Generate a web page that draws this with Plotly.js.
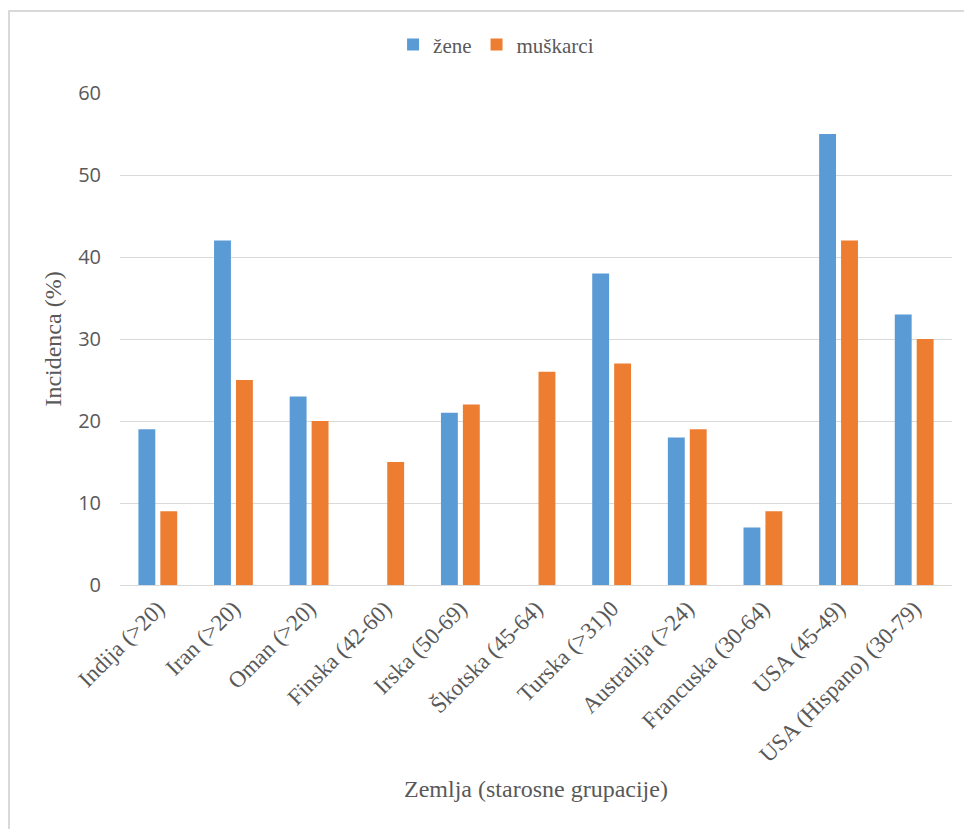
<!DOCTYPE html>
<html>
<head>
<meta charset="utf-8">
<script src="https://cdn.plot.ly/plotly-3.0.1.min.js"></script>
<style>
  html, body { margin: 0; padding: 0; background: #ffffff; }
  #wrap { position: relative; width: 964px; height: 829px; overflow: hidden; }
  #chart { position: absolute; left: 0; top: 0; width: 964px; height: 829px; }
  #frame {
    position: absolute; left: 8px; top: 10px; width: 980px; height: 840px;
    border-top: 2px solid #d9d9d9; border-left: 2px solid #d9d9d9;
    pointer-events: none;
  }
</style>
</head>
<body>
<div id="wrap">
  <div id="chart"></div>
  <div id="frame"></div>
</div>
<script>
// Incidence by country (age groups), women vs men
const categories = [
  'Indija (>20)', 'Iran (>20)', 'Oman (>20)', 'Finska (42-60)', 'Irska (50-69)',
  'Škotska (45-64)', 'Turska (>31)0', 'Australija (>24)', 'Francuska (30-64)',
  'USA (45-49)', 'USA (Hispano) (30-79)'
];
const zene     = [19, 42, 23, null, 21, null, 38, 18, 7, 55, 33];
const muskarci = [ 9, 25, 20, 15,  22, 26,   27, 19, 9, 42, 30];
const yTicks   = [0, 10, 20, 30, 40, 50, 60];

const serif = '"Liberation Serif", "Times New Roman", serif';
const sans  = '"Open Sans", "Liberation Sans", sans-serif';
const textGray = '#595959';

const traces = [
  { type: 'bar', name: 'žene', x: categories, y: zene,
    marker: { color: '#5B9BD5' }, hoverinfo: 'x+y+name' },
  { type: 'bar', name: 'muškarci', x: categories, y: muskarci,
    marker: { color: '#ED7D31' }, hoverinfo: 'x+y+name' }
];

const layout = {
  width: 964, height: 829,
  paper_bgcolor: '#ffffff', plot_bgcolor: '#ffffff',
  margin: { l: 120, r: 12, t: 93, b: 244, autoexpand: false },
  barmode: 'group', bargap: 0.42, bargroupgap: 0.23,
  showlegend: true,
  legend: {
    orientation: 'h', x: 0.452, xanchor: 'center', y: 1.098, yanchor: 'middle',
    font: { family: serif, size: 21, color: textGray },
    itemwidth: 30, tracegroupgap: 0
  },
  xaxis: {
    type: 'category', tickangle: -45, automargin: false,
    tickfont: { family: serif, size: 23, color: textGray },
    showgrid: false, ticks: '', showline: true, linecolor: '#d9d9d9', linewidth: 1,
    title: { text: 'Zemlja (starosne grupacije)', standoff: 13,
             font: { family: serif, size: 24, color: textGray } }
  },
  yaxis: {
    range: [0, 60], tickvals: yTicks, automargin: false,
    tickfont: { family: sans, size: 20, color: textGray },
    showgrid: true, gridcolor: '#d9d9d9', gridwidth: 1,
    zeroline: false, showline: false, ticks: '', ticklabelstandoff: 18,
    title: { text: 'Incidenca (%)', font: { family: serif, size: 24, color: textGray }, standoff: 9 }
  }
};

Plotly.newPlot('chart', traces, layout, { displayModeBar: false, staticPlot: true });
</script>
</body>
</html>
